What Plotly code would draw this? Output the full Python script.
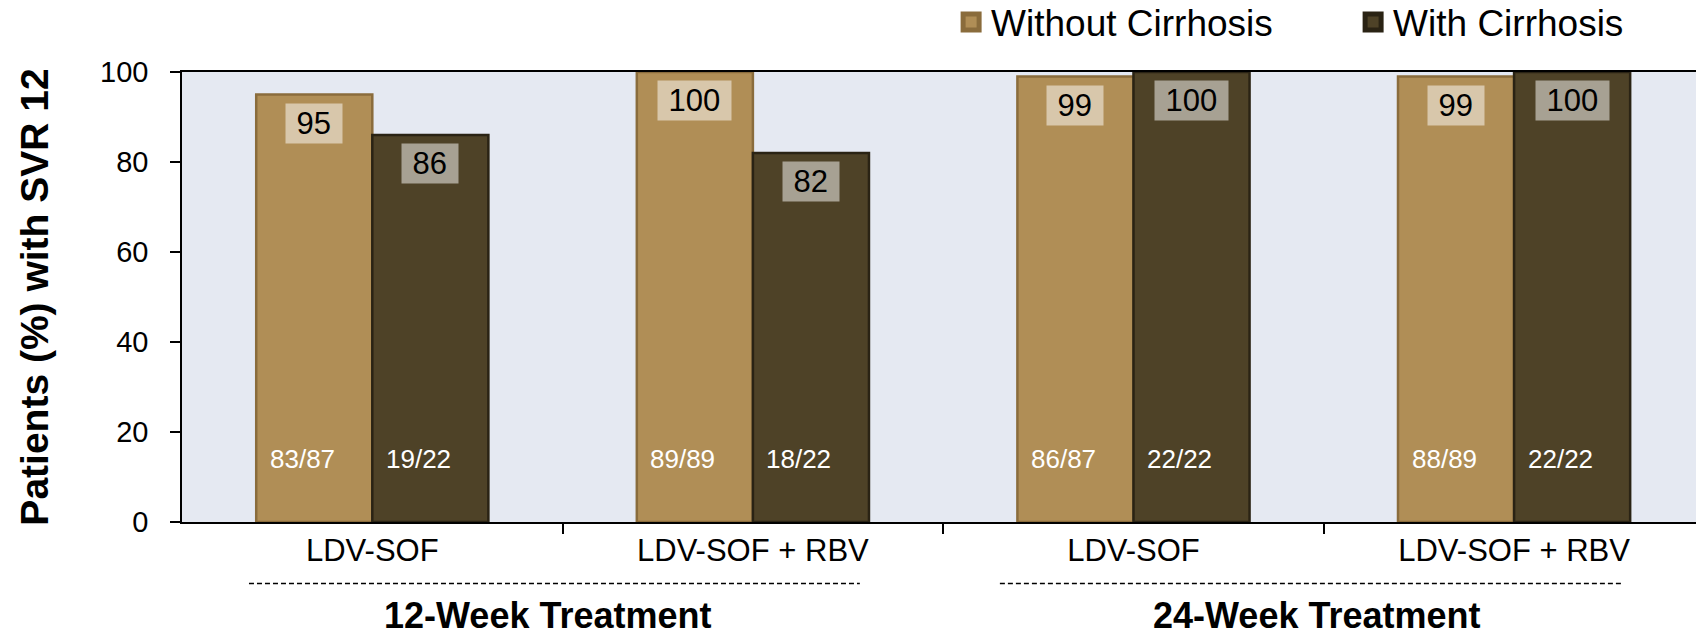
import plotly.graph_objects as go

# SVR12 by regimen, duration and cirrhosis status
regimens = ["LDV-SOF", "LDV-SOF + RBV", "LDV-SOF", "LDV-SOF + RBV"]
durations = ["12-Week Treatment", "24-Week Treatment"]
without_cirrhosis = [95, 100, 99, 99]
with_cirrhosis = [86, 82, 100, 100]
without_counts = ["83/87", "89/89", "86/87", "88/89"]
with_counts = ["19/22", "18/22", "22/22", "22/22"]
y_ticks = [0, 20, 40, 60, 80, 100]

TAN = "#B08E56"
TAN_EDGE = "#8A6C3C"
DARK = "#4E4227"
DARK_EDGE = "#2A2314"
ARIAL = "Liberation Sans, Arial, sans-serif"

BARGAP = 0.39
positions = list(range(len(regimens)))
bar_w = (1 - BARGAP) / 2
offsets = [-bar_w / 2, bar_w / 2]

fig = go.Figure()

series = [
    ("Without Cirrhosis", without_cirrhosis, without_counts, TAN, TAN_EDGE),
    ("With Cirrhosis", with_cirrhosis, with_counts, DARK, DARK_EDGE),
]

for name, vals, counts, fill, edge in series:
    fig.add_trace(go.Bar(
        x=positions, y=vals, name=name, legendgroup=name, showlegend=False,
        marker=dict(color=fill, line=dict(color=edge, width=2.5)),
        hoverinfo="x+y",
    ))

# legend swatches
for name, vals, counts, fill, edge in series:
    fig.add_trace(go.Scatter(
        x=[None], y=[None], mode="markers", name=name, legendgroup=name,
        marker=dict(symbol="square", size=16, color=fill, line=dict(color=edge, width=5)),
    ))

annotations = []
for s_idx, (name, vals, counts, fill, edge) in enumerate(series):
    off = offsets[s_idx]
    for i, (v, c) in enumerate(zip(vals, counts)):
        annotations.append(dict(
            x=positions[i] + off, y=v, xref="x", yref="y",
            text="\u00a0" + str(v) + "\u00a0", showarrow=False,
            yanchor="top", yshift=-8, bgcolor="rgba(255,255,255,0.5)", borderpad=2,
            font=dict(family=ARIAL, size=31, color="black"),
        ))
        annotations.append(dict(
            x=positions[i] + off, y=14, xref="x", yref="y",
            text=c, showarrow=False, yanchor="middle", xshift=-12,
            font=dict(family=ARIAL, size=26, color="white"),
        ))

# duration group labels beneath the regimen labels
group_centers = [0.46, 2.48]
for lbl, cx in zip(durations, group_centers):
    annotations.append(dict(
        x=cx, y=-0.2553, xref="x", yref="paper", text="<b>" + lbl + "</b>",
        showarrow=False, yanchor="bottom", borderpad=0,
        font=dict(family=ARIAL, size=36, color="black"),
    ))

shapes = []
for x0, x1 in [(-0.324, 1.281), (1.649, 3.283)]:
    shapes.append(dict(
        type="line", xref="x", yref="paper", x0=x0, x1=x1, y0=-0.1365, y1=-0.1365,
        line=dict(color="black", width=1.5, dash="5px,3px"),
    ))

fig.update_layout(
    width=1696, height=640,
    margin=dict(l=182, r=0, t=72, b=117.5, autoexpand=False),
    paper_bgcolor="white", plot_bgcolor="#E5E9F2",
    barmode="group", bargap=BARGAP, bargroupgap=0,
    showlegend=True,
    legend=dict(
        orientation="h", x=0.508, xanchor="left", y=1.11, yanchor="middle",
        font=dict(family=ARIAL, size=37, color="black"),
        entrywidth=357, entrywidthmode="pixels", itemsizing="trace",
        bgcolor="rgba(0,0,0,0)",
    ),
    annotations=annotations, shapes=shapes,
)

fig.update_xaxes(
    range=[-0.5, 3.478], tickmode="array", tickvals=positions, ticktext=regimens,
    ticks="", showgrid=False, zeroline=False,
    showline=True, linecolor="black", linewidth=1.5, mirror=True,
    tickfont=dict(family=ARIAL, size=31, color="black"),
    minor=dict(tickmode="array", tickvals=[p + 0.5 for p in positions[:-1]],
               ticks="outside", ticklen=10, tickcolor="black", tickwidth=1.5, showgrid=False),
)
fig.update_yaxes(
    range=[0, 100], tickmode="array", tickvals=y_ticks,
    ticks="outside", ticklen=10, tickcolor="black", tickwidth=1.5,
    showgrid=False, zeroline=False,
    showline=True, linecolor="black", linewidth=1.5,
    tickfont=dict(family=ARIAL, size=29, color="black"), ticklabelstandoff=16,
    title=dict(text="<b>Patients (%) with SVR 12</b>", standoff=39,
               font=dict(family=ARIAL, size=39, color="black")),
)

fig.write_html("out.html")
